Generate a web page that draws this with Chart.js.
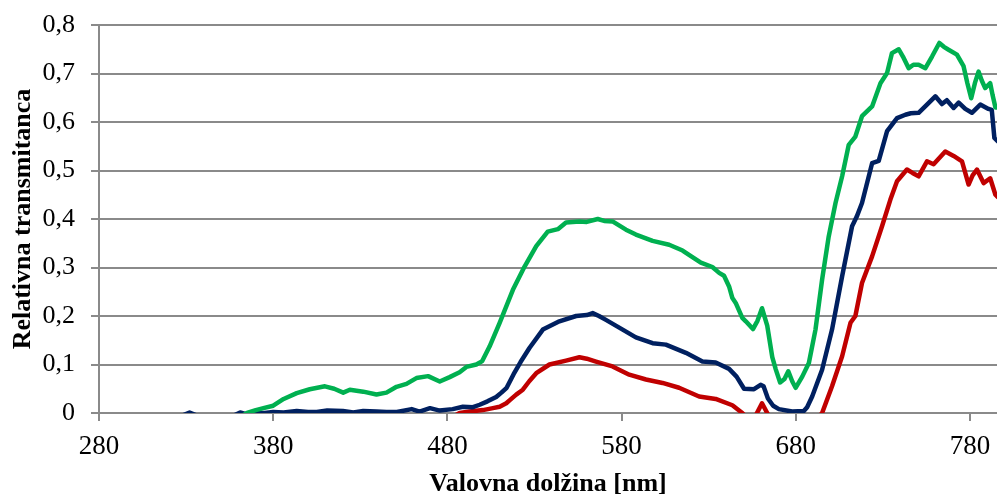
<!DOCTYPE html>
<html>
<head>
<meta charset="utf-8">
<script src="https://cdn.jsdelivr.net/npm/chart.js@4.4.1/dist/chart.umd.min.js"></script>
<style>
  html, body { margin: 0; padding: 0; background: #fff; }
  canvas { display: block; }
</style>
</head>
<body>
<canvas id="c" width="997" height="495"></canvas>
<script>
// Axis ticks
const xTicks = [280, 380, 480, 580, 680, 780];
const yTicks = [0, 0.1, 0.2, 0.3, 0.4, 0.5, 0.6, 0.7, 0.8];

// Spectra: wavelength [nm] and relative transmittance
const greenNm = [360,365,370,374.4,380,386,393.5,401,409.7,415,420.2,424,431.7,439.3,445,450.8,456.5,462.2,468.9,475.6,481.3,487,490.9,496.6,500,504.2,510,517.6,524.3,531,537.6,543.4,548.1,555.8,560,566.3,570,574.8,582.5,588.2,597.8,607.3,615,620,625.5,632.1,636,638.8,641.7,643.6,645.5,649.3,651.3,655.4,658,660.6,663.6,666.5,668.5,671,673.5,675.7,678,679.9,683.7,687.5,691.3,695.1,698.9,702.8,706.6,710.4,714.2,718,723.8,728.6,732.4,735.2,739.1,741.5,744.8,747.5,750.5,754.4,758.2,762.4,765,767.7,772.5,776.3,778.5,780.7,782.8,784.9,786.8,788.7,791.6,793,794.6,796];
const greenT = [-0.01,0,0.006,0.010,0.015,0.029,0.041,0.049,0.055,0.05,0.042,0.048,0.044,0.038,0.042,0.054,0.060,0.072,0.076,0.065,0.074,0.084,0.095,0.100,0.107,0.137,0.186,0.254,0.302,0.344,0.374,0.379,0.393,0.395,0.394,0.400,0.396,0.395,0.378,0.368,0.355,0.347,0.335,0.323,0.310,0.301,0.289,0.283,0.261,0.237,0.227,0.196,0.189,0.173,0.19,0.216,0.18,0.115,0.09,0.063,0.07,0.086,0.065,0.052,0.075,0.103,0.172,0.275,0.364,0.433,0.488,0.553,0.570,0.612,0.632,0.680,0.701,0.742,0.750,0.735,0.711,0.718,0.718,0.711,0.735,0.763,0.755,0.749,0.739,0.715,0.68,0.649,0.68,0.704,0.685,0.67,0.68,0.655,0.63,0.63];

const blueNm = [328,332,336,358,361,364,368,375,380,386,393.5,400,405,411,420,426,431.7,439.3,445,451,459.5,464,470,475.6,483,488.9,494.7,498.5,503,508,511,514,518,522,527.1,534.8,544.3,553.9,560,563.4,567,571,580.6,588.2,597.8,605.4,616.9,626.4,634,641.7,646,650.3,656,659.8,661.5,664,667,670.3,677.9,684.6,686.5,689.4,695.1,700.8,706.6,712.3,715,718,723.8,727.6,732.4,738.1,742.9,746,750.5,755.3,760.1,763.9,766.7,770.6,773.5,777.3,781.1,785.9,790.6,792.5,794,796];
const blueT = [-0.005,0.001,-0.005,-0.004,0.001,-0.002,0,0,0.002,0.001,0.004,0.002,0.002,0.005,0.004,0.001,0.004,0.003,0.002,0.002,0.008,0.003,0.010,0.005,0.008,0.013,0.012,0.017,0.024,0.033,0.042,0.052,0.08,0.105,0.134,0.172,0.189,0.2,0.202,0.206,0.2,0.192,0.172,0.156,0.144,0.141,0.124,0.106,0.104,0.091,0.075,0.05,0.049,0.058,0.055,0.03,0.015,0.008,0.003,0.004,0.012,0.034,0.089,0.172,0.282,0.385,0.405,0.433,0.515,0.52,0.581,0.608,0.615,0.618,0.619,0.636,0.653,0.637,0.645,0.629,0.64,0.627,0.619,0.636,0.627,0.625,0.567,0.56];

const redNm = [482,487,492.7,500.4,506.1,510,513.8,516,519.5,523.3,527.1,531,538.6,548.1,555.8,560,565.3,574.8,584.4,594,603.5,613,624.5,634,643.6,649.3,652,657,660.6,663.6,666,690,695.1,700.8,706.6,711.4,714.2,718,723.8,729.5,734.3,738.1,743.8,747,750.5,755.3,759.1,765.8,770.6,775.4,779.2,781.5,784,787.8,791.6,794.6,796];
const redT = [-0.01,0,0.003,0.006,0.01,0.013,0.02,0.027,0.038,0.048,0.066,0.082,0.1,0.108,0.115,0.112,0.106,0.096,0.079,0.069,0.062,0.052,0.034,0.029,0.016,0,-0.01,-0.005,0.02,0,-0.02,-0.02,0,0.055,0.117,0.186,0.2,0.268,0.323,0.385,0.44,0.478,0.502,0.495,0.488,0.519,0.513,0.539,0.53,0.519,0.471,0.49,0.502,0.474,0.484,0.45,0.445];

const toPoints = (nm, t) => nm.map((x, i) => ({ x: x, y: t[i] }));

const FONT = "'Liberation Serif', 'Times New Roman', serif";
const GRID = '#8a8a8a';

const series = (label, nm, t, color) => ({
  label: label,
  data: toPoints(nm, t),
  borderColor: color,
  backgroundColor: color,
  borderWidth: 4.5,
  pointRadius: 0,
  tension: 0,
  clip: 0,
  borderJoinStyle: 'round',
  borderCapStyle: 'round'
});

new Chart(document.getElementById('c'), {
  type: 'line',
  data: {
    datasets: [
      series('A', greenNm, greenT, '#00b050'),
      series('B', blueNm, blueT, '#002060'),
      series('C', redNm, redT, '#c00000')
    ]
  },
  options: {
    responsive: false,
    animation: false,
    devicePixelRatio: 1,
    layout: { padding: { top: 25, right: 0, bottom: 0, left: 0 } },
    plugins: { legend: { display: false }, tooltip: { enabled: false } },
    scales: {
      x: {
        type: 'linear',
        min: 280,
        max: 795.5,
        afterBuildTicks: s => { s.ticks = xTicks.map(v => ({ value: v })); },
        afterFit: s => { s.height = 82; s.paddingLeft = 0; s.paddingRight = 0; },
        grid: { display: true, drawOnChartArea: false, drawTicks: true, tickLength: 8, color: GRID, lineWidth: 2 },
        border: { display: true, color: GRID, width: 2 },
        ticks: {
          color: '#000',
          padding: 10,
          maxRotation: 0,
          autoSkip: false,
          font: { family: FONT, size: 27 },
          callback: v => String(v)
        },
        title: {
          display: true,
          text: 'Valovna dolžina [nm]',
          color: '#000',
          padding: { top: 0, bottom: 0 },
          font: { family: FONT, size: 26, weight: 'bold', lineHeight: 0.85 }
        }
      },
      y: {
        min: 0,
        max: 0.8,
        afterBuildTicks: s => { s.ticks = yTicks.map(v => ({ value: v })); },
        afterFit: s => { s.width = 99; s.paddingTop = 0; s.paddingBottom = 0; },
        grid: { display: true, drawOnChartArea: true, drawTicks: true, tickLength: 8, color: GRID, lineWidth: 2 },
        border: { display: true, color: GRID, width: 2 },
        ticks: {
          color: '#000',
          padding: 16,
          autoSkip: false,
          font: { family: FONT, size: 26 },
          callback: v => (v === 0 ? '0' : v.toFixed(1).replace('.', ','))
        },
        title: {
          display: true,
          text: 'Relativna transmitanca',
          color: '#000',
          padding: { top: 8, bottom: 0 },
          font: { family: FONT, size: 26, weight: 'bold' }
        }
      }
    }
  }
});
</script>
</body>
</html>
